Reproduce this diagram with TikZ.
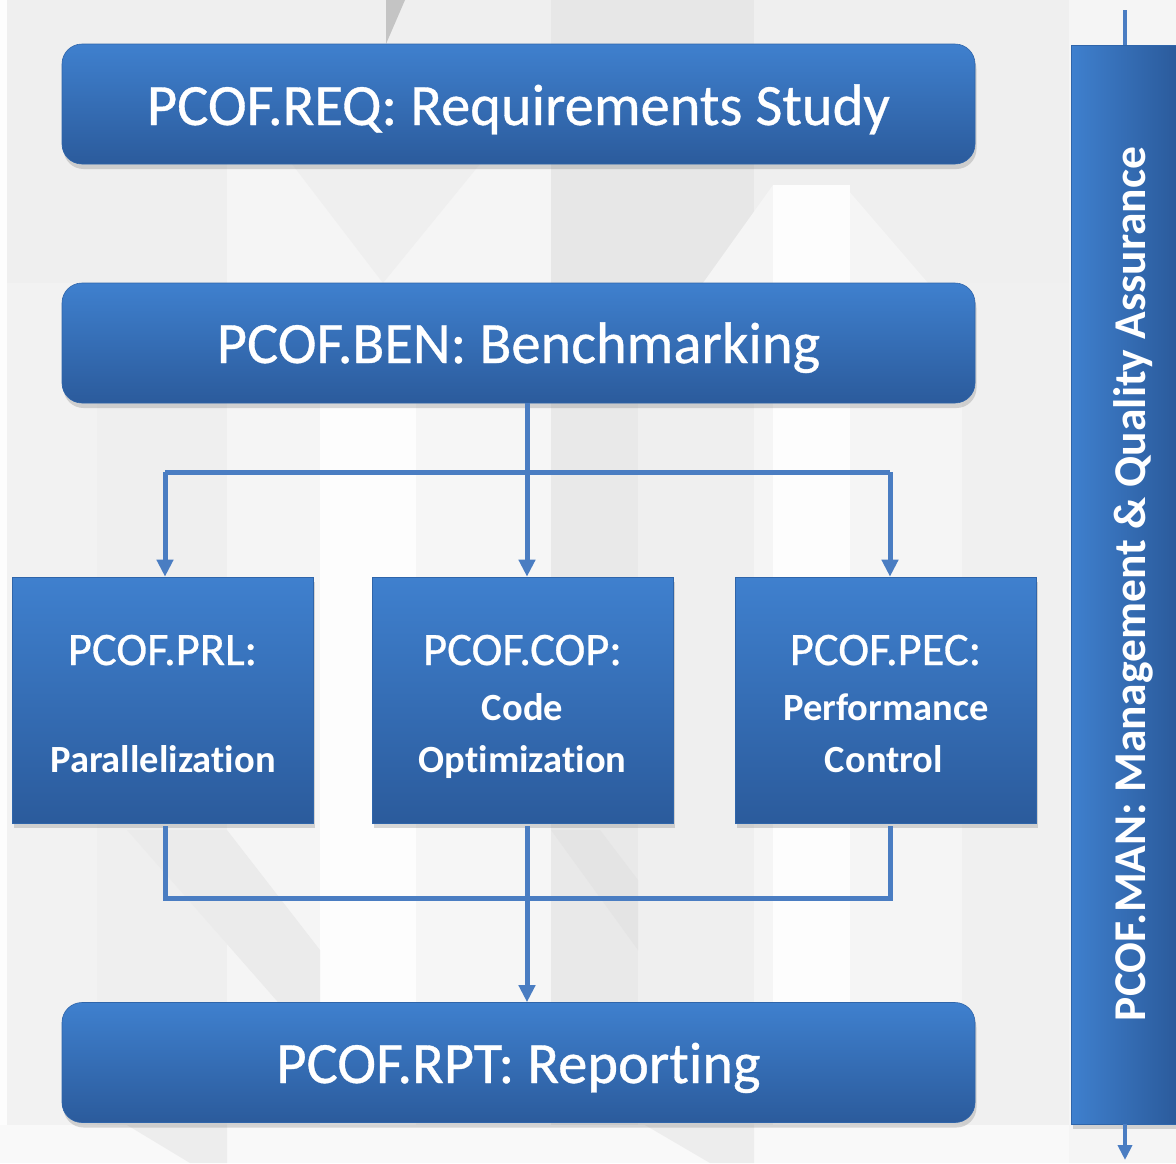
\documentclass[tikz,border=0pt]{standalone}
\usepackage{fontspec}
\setmainfont{Carlito}[Ligatures=NoCommon]
\newfontfamily\headfont{Carlito}[Ligatures=NoCommon, FakeBold=0.6]
\usetikzlibrary{arrows.meta,shadows}

\definecolor{bgbase}{HTML}{EFEFEF}
\definecolor{bglight}{HTML}{F5F5F5}
\definecolor{bgwhite}{HTML}{FDFDFD}
\definecolor{bgdark}{HTML}{E7E7E7}
\definecolor{bgwedge}{HTML}{C4C4C4}
\definecolor{bgA}{HTML}{F2F2F2}
\definecolor{bgB}{HTML}{F6F6F6}
\definecolor{bgC}{HTML}{E9E9E9}
\definecolor{bgD}{HTML}{F0F0F0}
\definecolor{bgE}{HTML}{EBEBEB}
\definecolor{bgF}{HTML}{E4E4E4}
\definecolor{bgG}{HTML}{F9F9F9}
\definecolor{bgH}{HTML}{EDEDED}
\definecolor{boxtop}{HTML}{3F80CE}
\definecolor{boxbot}{HTML}{2B5B9C}
\definecolor{boxedge}{HTML}{2F65AA}
\definecolor{wire}{HTML}{4A7DC2}

\tikzset{
  boxshade/.style={top color=boxtop, bottom color=boxbot, draw=boxedge, line width=0.6pt,
    drop shadow={shadow xshift=1.5pt, shadow yshift=-5pt, opacity=0.3}},
  phase/.style={boxshade, rectangle, rounded corners=20pt, inner sep=0pt,
    minimum width=913pt, minimum height=120pt},
  task/.style={boxshade, rectangle, inner sep=0pt, minimum width=301pt, minimum height=246pt},
  sidebar/.style={rectangle, left color=boxtop, right color=boxbot, draw=boxedge, line width=0.6pt,
    inner sep=0pt, minimum width=105pt, minimum height=1079pt,
    drop shadow={shadow xshift=1.5pt, shadow yshift=-5pt, opacity=0.3}},
  bigtext/.style={text=white, inner sep=0pt, anchor=base, font=\headfont\fontsize{58.5}{60}\selectfont},
  tasktitle/.style={text=white, inner sep=0pt, anchor=base, font=\headfont\fontsize{46.5}{50}\selectfont},
  tasksub/.style={text=white, inner sep=0pt, anchor=base, font=\fontsize{38.5}{44}\selectfont\bfseries},
  sidetext/.style={text=white, inner sep=0pt, anchor=base, rotate=90, font=\fontsize{45.5}{50}\selectfont\bfseries},
  wireline/.style={draw=wire, line width=5pt},
  wirearrow/.style={wireline, -{Triangle[width=16pt,length=17pt]}},
  thinwire/.style={draw=wire, line width=4pt},
  thinarrow/.style={thinwire, -{Triangle[width=14pt,length=15pt]}},
}

\begin{document}
\begin{tikzpicture}[x=1pt,y=-1pt]
\useasboundingbox (0,0) rectangle (1176,1163);

% ---- faint watermark background ----
\fill[bgbase] (0,0) rectangle (1176,1163);
\fill[bgwhite] (0,0) rectangle (7,1163);
\fill[bgdark] (551,0) rectangle (754,283);
\fill[bglight] (1069,0) rectangle (1176,1163);
% V shape between the first two phases
\fill[bglight] (227,164) rectangle (551,283);
\fill[bgbase] (292,164) -- (480,164) -- (383,283) -- cycle;
% inverted V on the right
\fill[bglight] (698,290) -- (773,185) -- (848,190) -- (934,290) -- cycle;
\fill[bgwhite] (773,185) rectangle (850,1163);
% vertical columns in the lower part
\fill[bgA] (7,283) rectangle (97,1163);
\fill[bglight] (227,283) rectangle (320,1163);
\fill[bgwhite] (320,283) rectangle (416,1163);
\fill[bgB] (416,283) rectangle (551,1163);
\fill[bgC] (551,283) rectangle (638,1163);
\fill[bgbase] (638,283) rectangle (754,1163);
\fill[bglight] (754,283) rectangle (773,1163);
\fill[bglight] (850,283) rectangle (962,1163);
\fill[bgD] (962,283) rectangle (1069,1163);
% diagonal strokes of the watermark
\fill[bgE] (127,830) -- (227,830) -- (320,950) -- (320,1050) -- cycle;
\fill[bgF] (551,830) -- (600,830) -- (638,880) -- (638,950) -- cycle;
\fill[bgG] (0,1125) rectangle (1069,1163);
\fill[bgH] (127,1125) -- (190,1163) -- (227,1163) -- (227,1125) -- cycle;
\fill[bgH] (645,1125) -- (710,1163) -- (754,1163) -- (754,1125) -- cycle;
% small dark wedge at the top
\fill[bgwedge] (386,0) -- (405,0) -- (386,44) -- cycle;

% ---- phases ----
\node[phase] (req) at (518.5,104) {};
\node[phase] (ben) at (518.5,343) {};
\node[phase] (rpt) at (518.5,1062.5) {};
\node[task] (prl) at (162.5,700) {};
\node[task] (cop) at (522.5,700) {};
\node[task] (pec) at (885.5,700) {};
\node[sidebar] (man) at (1123.5,584.5) {};

% ---- labels ----
\node[bigtext] (reqT) at (518.5,125) {PCOF.REQ: Requirements Study};
\node[bigtext] (benT) at (518.5,363) {PCOF.BEN: Benchmarking};
\node[bigtext] (rptT) at (518.5,1083) {PCOF.RPT: Reporting};

\node[tasktitle] (prlT) at (162.5,665) {PCOF.PRL:};
\node[tasksub] (prlS) at (163,772) {Parallelization};

\node[tasktitle] (copT) at (522.5,665) {PCOF.COP:};
\node[tasksub] (copS1) at (522.5,720) {Code};
\node[tasksub] (copS2) at (522.5,772) {Optimization};

\node[tasktitle] (pecT) at (885.5,665) {PCOF.PEC:};
\node[tasksub] (pecS1) at (886,720) {Performance};
\node[tasksub] (pecS2) at (884,772) {Control};

\node[sidetext] (manT) at (1145,584) {PCOF.MAN: Management \& Quality Assurance};

% ---- connectors ----
\coordinate (sl) at (165,472);
\coordinate (sc) at (527,472);
\coordinate (sr) at (890,472);
\coordinate (jl) at (165,898);
\coordinate (jc) at (527,898);
\coordinate (jr) at (890,898);

\draw[wireline] (sc |- ben.south) -- (sc);
\draw[wireline] (sl) -- (sr);
\draw[wirearrow] (sl) -- (sl |- prl.north);
\draw[wirearrow] (sc) -- (sc |- cop.north);
\draw[wirearrow] (sr) -- (sr |- pec.north);

\draw[wireline] ([yshift=-3pt]jl |- prl.south) -- (jl) -- (jr) -- ([yshift=-3pt]jr |- pec.south);
\draw[wireline] ([yshift=-3pt]jc |- cop.south) -- (jc);
\draw[wirearrow] (jc) -- (jc |- rpt.north);

\coordinate (mantop) at (1125,10);
\coordinate (manbot) at (1125,1160);
\draw[thinwire] (mantop) -- (mantop |- man.north);
\draw[thinarrow] (manbot |- man.south) -- (manbot);
\end{tikzpicture}
\end{document}
